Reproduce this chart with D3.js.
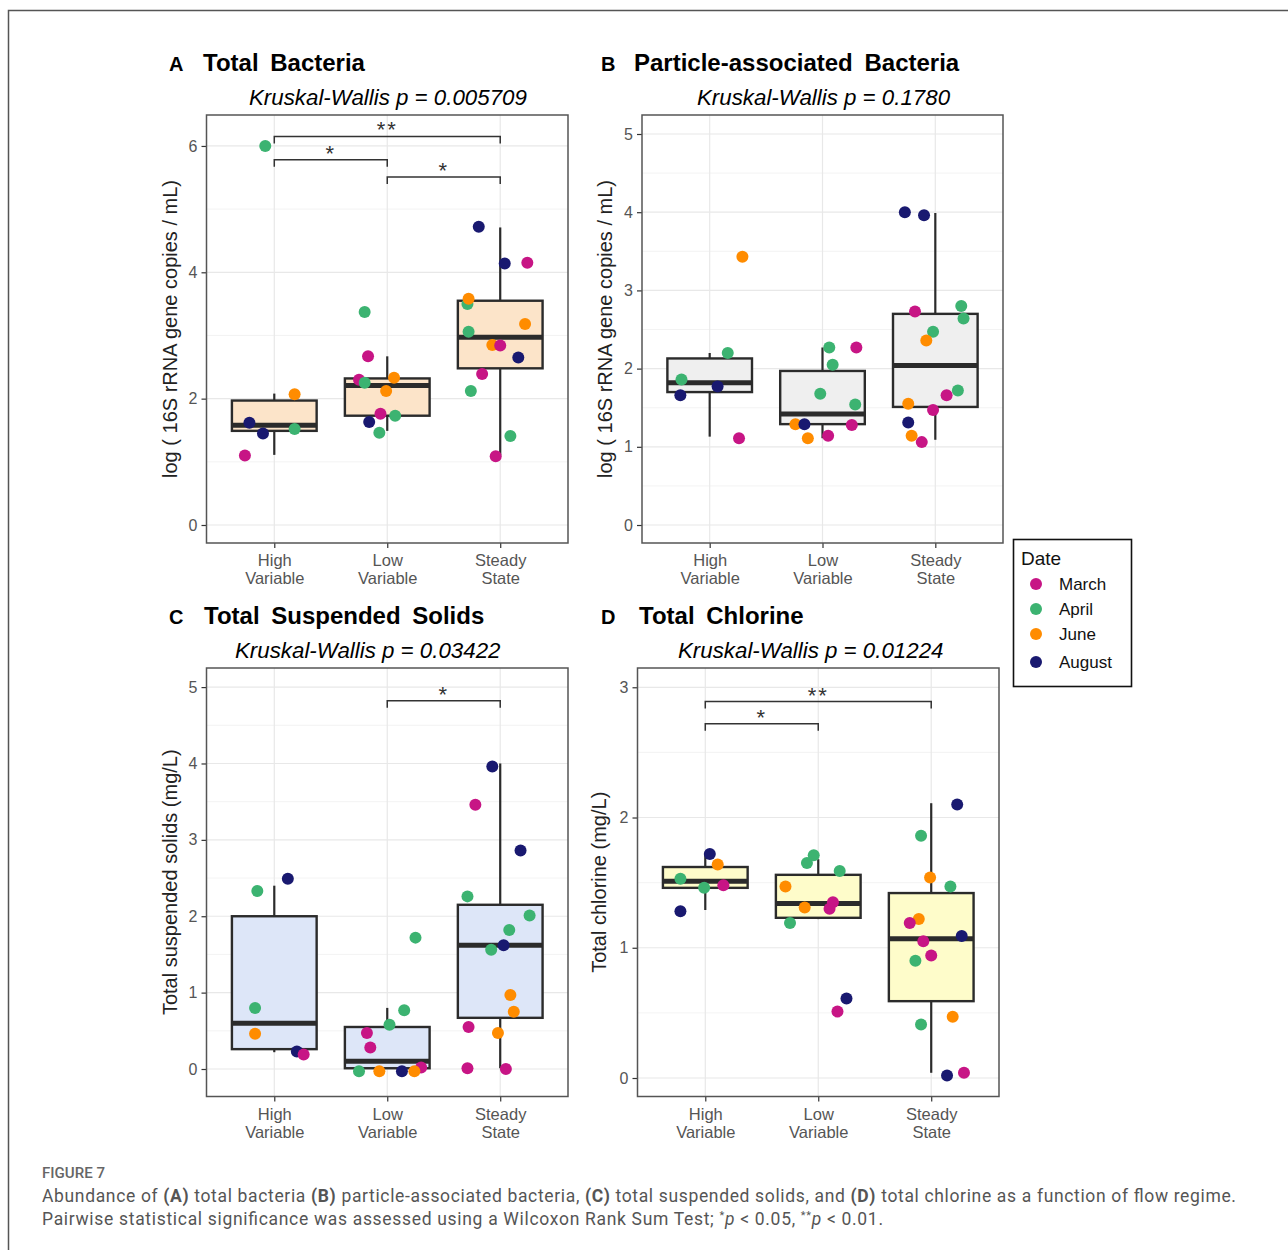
<!DOCTYPE html>
<html>
<head>
<meta charset="utf-8">
<script src="https://cdn.jsdelivr.net/npm/d3@7"></script>
<style>
  body { margin: 0; background: #fff; }
  text { font-family: "Liberation Sans", Arial, sans-serif; }
</style>
</head>
<body>
<script>
// flow regimes and sampling months
var categories = ["High Variable", "Low Variable", "Steady State"];
var catLines = [["High", "Variable"], ["Low", "Variable"], ["Steady", "State"]];
var months = ["March", "April", "June", "August"];
var monthColors = ["#c71585", "#3cb371", "#ff8c00", "#191970"];

// A - total bacteria: box stats [low whisker, q1, median, q3, high whisker]
var bactBoxes = [[1.11, 1.49, 1.58, 1.97, 2.08], [1.49, 1.73, 2.21, 2.32, 2.67], [1.10, 2.48, 2.97, 3.55, 4.71]];
var bactValues = [
  [6.00, 1.62, 1.45, 1.10, 2.07, 1.52],
  [3.37, 2.67, 2.30, 2.25, 2.33, 2.12, 1.76, 1.73, 1.63, 1.46],
  [4.72, 4.14, 4.15, 3.50, 3.58, 3.06, 3.18, 2.85, 2.84, 2.65, 2.39, 2.12, 1.41, 1.09]];
var bactMonths = [
  ["April", "August", "August", "March", "June", "April"],
  ["April", "March", "March", "April", "June", "June", "March", "April", "August", "April"],
  ["August", "August", "March", "April", "June", "April", "June", "June", "March", "August", "March", "April", "April", "March"]];
var bactJitter = [
  [-0.08, -0.22, -0.10, -0.26, 0.18, 0.18],
  [-0.20, -0.17, -0.25, -0.20, 0.06, -0.01, -0.06, 0.07, -0.16, -0.07],
  [-0.19, 0.04, 0.24, -0.29, -0.28, -0.28, 0.22, -0.07, 0.00, 0.16, -0.16, -0.26, 0.09, -0.04]];
var bactSig = [[0, 2, 6.15, "**"], [0, 1, 5.78, "*"], [1, 2, 5.51, "*"]];

// B - particle-associated bacteria
var partBoxes = [[1.13, 1.70, 1.82, 2.13, 2.20], [1.11, 1.29, 1.42, 1.97, 2.27], [1.09, 1.51, 2.04, 2.70, 3.99]];
var partValues = [
  [1.86, 1.66, 1.77, 2.20, 3.43, 1.11],
  [2.27, 2.27, 2.05, 1.68, 1.54, 1.29, 1.29, 1.28, 1.11, 1.14],
  [4.00, 3.96, 2.80, 2.64, 2.73, 2.47, 2.36, 1.72, 1.66, 1.55, 1.47, 1.31, 1.14, 1.06]];
var partMonths = [
  ["April", "August", "August", "April", "June", "March"],
  ["April", "March", "April", "April", "April", "June", "August", "March", "June", "March"],
  ["August", "August", "April", "April", "March", "April", "June", "April", "March", "June", "March", "August", "June", "March"]];
var partJitter = [
  [-0.25, -0.26, 0.07, 0.16, 0.29, 0.26],
  [0.06, 0.30, 0.09, -0.02, 0.29, -0.24, -0.16, 0.26, -0.13, 0.05],
  [-0.27, -0.10, 0.23, 0.25, -0.18, -0.02, -0.08, 0.20, 0.10, -0.24, -0.02, -0.24, -0.21, -0.12]];
var partSig = [];

// C - total suspended solids
var tssBoxes = [[0.22, 0.26, 0.60, 2.00, 2.40], [0.01, 0.01, 0.10, 0.55, 0.80], [0.01, 0.67, 1.62, 2.15, 4.00]];
var tssValues = [
  [2.33, 2.49, 0.80, 0.46, 0.23, 0.19],
  [1.72, 0.77, 0.58, 0.47, 0.28, -0.03, -0.03, -0.03, 0.02, -0.03],
  [3.96, 3.46, 2.86, 2.26, 2.01, 1.82, 1.62, 1.56, 0.97, 0.75, 0.55, 0.47, 0.01, 0.00]];
var tssMonths = [
  ["April", "August", "April", "June", "August", "March"],
  ["April", "April", "April", "March", "March", "April", "June", "August", "March", "June"],
  ["August", "March", "August", "April", "April", "April", "August", "April", "June", "June", "March", "June", "March", "March"]];
var tssJitter = [
  [-0.15, 0.12, -0.17, -0.17, 0.20, 0.26],
  [0.25, 0.15, 0.02, -0.18, -0.15, -0.25, -0.07, 0.13, 0.30, 0.24],
  [-0.07, -0.22, 0.18, -0.29, 0.26, 0.08, 0.03, -0.08, 0.09, 0.12, -0.28, -0.02, -0.29, 0.05]];
var tssSig = [[1, 2, 4.82, "*"]];

// D - total chlorine
var clBoxes = [[1.29, 1.46, 1.51, 1.62, 1.72], [1.22, 1.23, 1.34, 1.56, 1.68], [0.04, 0.59, 1.07, 1.42, 2.11]];
var clValues = [
  [1.72, 1.64, 1.53, 1.46, 1.48, 1.28],
  [1.71, 1.65, 1.59, 1.47, 1.31, 1.35, 1.30, 1.19, 0.61, 0.51],
  [2.10, 1.86, 1.54, 1.47, 1.22, 1.19, 1.09, 1.05, 0.94, 0.90, 0.47, 0.41, 0.02, 0.04]];
var clMonths = [
  ["August", "June", "April", "April", "March", "August"],
  ["April", "April", "April", "June", "June", "March", "March", "April", "August", "March"],
  ["August", "April", "June", "April", "June", "March", "August", "March", "March", "April", "June", "April", "August", "March"]];
var clJitter = [
  [0.04, 0.11, -0.22, -0.01, 0.16, -0.22],
  [-0.04, -0.10, 0.19, -0.29, -0.12, 0.13, 0.10, -0.25, 0.25, 0.17],
  [0.23, -0.09, -0.01, 0.17, -0.11, -0.19, 0.27, -0.07, 0.00, -0.14, 0.19, -0.09, 0.14, 0.29]];
var clSig = [[0, 2, 2.89, "**"], [0, 1, 2.72, "*"]];

var panels = [
  { letter: "A", title: "Total Bacteria", kw: "0.005709", ylab: "log ( 16S rRNA gene copies / mL)",
    boxes: bactBoxes, values: bactValues, months: bactMonths, jitter: bactJitter, sig: bactSig,
    ticks: [0, 2, 4, 6], minor: [1, 3, 5], ydom: [-0.285, 6.49], fill: "#fce4c9",
    x0: 206.5, x1: 568, y0: 115, y1: 543, letterX: 169, titleX: 203, kwX: 249, ylabX: 177 },
  { letter: "B", title: "Particle-associated Bacteria", kw: "0.1780", ylab: "log ( 16S rRNA gene copies / mL)",
    boxes: partBoxes, values: partValues, months: partMonths, jitter: partJitter, sig: partSig,
    ticks: [0, 1, 2, 3, 4, 5], minor: [0.5, 1.5, 2.5, 3.5, 4.5], ydom: [-0.23, 5.243], fill: "#efefef",
    x0: 642, x1: 1003, y0: 115, y1: 543, letterX: 601, titleX: 634, kwX: 697, ylabX: 612 },
  { letter: "C", title: "Total Suspended Solids", kw: "0.03422", ylab: "Total suspended solids (mg/L)",
    boxes: tssBoxes, values: tssValues, months: tssMonths, jitter: tssJitter, sig: tssSig,
    ticks: [0, 1, 2, 3, 4, 5], minor: [0.5, 1.5, 2.5, 3.5, 4.5], ydom: [-0.36, 5.25], fill: "#dde6f8",
    x0: 206.5, x1: 568, y0: 668, y1: 1096.5, letterX: 169, titleX: 204, kwX: 235, ylabX: 177 },
  { letter: "D", title: "Total Chlorine", kw: "0.01224", ylab: "Total chlorine (mg/L)",
    boxes: clBoxes, values: clValues, months: clMonths, jitter: clJitter, sig: clSig,
    ticks: [0, 1, 2, 3], minor: [0.5, 1.5, 2.5], ydom: [-0.142, 3.148], fill: "#fefcca",
    x0: 637.5, x1: 999, y0: 668, y1: 1096.5, letterX: 601, titleX: 639, kwX: 678, ylabX: 606 }
];

var color = d3.scaleOrdinal(months, monthColors);

var svg = d3.select("body").append("svg")
  .attr("width", 1288)
  .attr("height", 1250);

svg.append("rect").attr("width", 1288).attr("height", 1250).attr("fill", "#fff");

// outer frame of the figure
svg.append("rect")
  .attr("x", 8.5).attr("y", 10.5)
  .attr("width", 1300).attr("height", 1300)
  .attr("fill", "none").attr("stroke", "#555").attr("stroke-width", 1.5);

panels.forEach(function(p) {
  var x = d3.scaleLinear().domain([-0.6, 2.6]).range([p.x0, p.x1]);
  var y = d3.scaleLinear().domain(p.ydom).range([p.y1, p.y0]);
  var g = svg.append("g");

  // heading
  g.append("text").attr("x", p.letterX).attr("y", p.y0 - 44)
    .attr("font-size", 20).attr("font-weight", "bold").text(p.letter);
  g.append("text").attr("x", p.titleX).attr("y", p.y0 - 44)
    .attr("font-size", 24).attr("font-weight", "bold").attr("word-spacing", 5).text(p.title);
  g.append("text").attr("x", p.kwX).attr("y", p.y0 - 10)
    .attr("font-size", 22.3).attr("font-style", "italic").attr("fill", "#000")
    .text("Kruskal-Wallis p = " + p.kw);

  // grid
  g.selectAll(".minor").data(p.minor).enter().append("line")
    .attr("x1", p.x0).attr("x2", p.x1)
    .attr("y1", function(d) { return y(d); }).attr("y2", function(d) { return y(d); })
    .attr("stroke", "#f0f0f0").attr("stroke-width", 0.8);
  g.selectAll(".major").data(p.ticks).enter().append("line")
    .attr("x1", p.x0).attr("x2", p.x1)
    .attr("y1", function(d) { return y(d); }).attr("y2", function(d) { return y(d); })
    .attr("stroke", "#e8e8e8").attr("stroke-width", 1.2);
  g.selectAll(".vgrid").data([0, 1, 2]).enter().append("line")
    .attr("x1", function(d) { return x(d); }).attr("x2", function(d) { return x(d); })
    .attr("y1", p.y0).attr("y2", p.y1)
    .attr("stroke", "#e8e8e8").attr("stroke-width", 1.2);

  // axes
  var yAxis = g.append("g").attr("transform", "translate(" + p.x0 + ",0)")
    .call(d3.axisLeft(y).tickValues(p.ticks).tickSize(5).tickPadding(4).tickFormat(d3.format("d")));
  yAxis.select(".domain").remove();
  yAxis.selectAll("line").attr("stroke", "#333").attr("stroke-width", 1.2);
  yAxis.selectAll("text").attr("font-size", 16).attr("fill", "#555");

  var xAxis = g.append("g").attr("transform", "translate(0," + p.y1 + ")")
    .call(d3.axisBottom(x).tickValues([0, 1, 2]).tickSize(5).tickFormat(""));
  xAxis.select(".domain").remove();
  xAxis.selectAll("line").attr("stroke", "#333").attr("stroke-width", 1.2);
  xAxis.selectAll(".tick").each(function(d) {
    var t = d3.select(this).append("text").attr("fill", "#555").attr("font-size", 16.5)
      .attr("text-anchor", "middle");
    catLines[d].forEach(function(s, i) {
      t.append("tspan").attr("x", 0).attr("y", 23 + i * 18).text(s);
    });
  });

  g.append("text")
    .attr("transform", "translate(" + p.ylabX + "," + ((p.y0 + p.y1) / 2) + ") rotate(-90)")
    .attr("text-anchor", "middle").attr("font-size", 20).attr("fill", "#222")
    .text(p.ylab);

  // boxes
  var bw = 0.375;
  var boxG = g.selectAll(".box").data(p.boxes).enter().append("g");
  boxG.append("line")
    .attr("x1", function(d, i) { return x(i); }).attr("x2", function(d, i) { return x(i); })
    .attr("y1", function(d) { return y(d[0]); }).attr("y2", function(d) { return y(d[1]); })
    .attr("stroke", "#2b2b2b").attr("stroke-width", 2.2);
  boxG.append("line")
    .attr("x1", function(d, i) { return x(i); }).attr("x2", function(d, i) { return x(i); })
    .attr("y1", function(d) { return y(d[3]); }).attr("y2", function(d) { return y(d[4]); })
    .attr("stroke", "#2b2b2b").attr("stroke-width", 2.2);
  boxG.append("rect")
    .attr("x", function(d, i) { return x(i - bw); })
    .attr("width", x(2 * bw) - x(0))
    .attr("y", function(d) { return y(d[3]); })
    .attr("height", function(d) { return y(d[1]) - y(d[3]); })
    .attr("fill", p.fill).attr("stroke", "#2b2b2b").attr("stroke-width", 2.4);
  boxG.append("line")
    .attr("x1", function(d, i) { return x(i - bw); }).attr("x2", function(d, i) { return x(i + bw); })
    .attr("y1", function(d) { return y(d[2]); }).attr("y2", function(d) { return y(d[2]); })
    .attr("stroke", "#2b2b2b").attr("stroke-width", 5);

  // jittered points
  var pts = [];
  p.values.forEach(function(vals, ci) {
    vals.forEach(function(v, k) {
      pts.push({ cat: ci, value: v, month: p.months[ci][k], jit: p.jitter[ci][k] });
    });
  });
  g.selectAll(".pt").data(pts).enter().append("circle")
    .attr("cx", function(d) { return x(d.cat + d.jit); })
    .attr("cy", function(d) { return y(d.value); })
    .attr("r", 6)
    .attr("fill", function(d) { return color(d.month); });

  // significance brackets
  p.sig.forEach(function(s) {
    var yy = y(s[2]);
    g.append("path")
      .attr("d", "M" + x(s[0]) + "," + (yy + 7) + "V" + yy + "H" + x(s[1]) + "V" + (yy + 7))
      .attr("fill", "none").attr("stroke", "#333").attr("stroke-width", 1.5);
    g.append("text").attr("x", (x(s[0]) + x(s[1])) / 2).attr("y", yy + 1)
      .attr("text-anchor", "middle").attr("font-size", 22).attr("fill", "#333")
      .attr("letter-spacing", 2).text(s[3]);
  });

  // panel border
  g.append("rect").attr("x", p.x0).attr("y", p.y0)
    .attr("width", p.x1 - p.x0).attr("height", p.y1 - p.y0)
    .attr("fill", "none").attr("stroke", "#555").attr("stroke-width", 1.5);
});

// legend
var leg = svg.append("g").attr("transform", "translate(1013,539)");
leg.append("rect").attr("x", 0.5).attr("y", 0.5).attr("width", 118).attr("height", 147)
  .attr("fill", "#fff").attr("stroke", "#111").attr("stroke-width", 1.6);
leg.append("text").attr("x", 8).attr("y", 26).attr("font-size", 19).attr("fill", "#111").text("Date");
var li = leg.selectAll(".li").data(months).enter().append("g")
  .attr("transform", function(d, i) { return "translate(0," + [45, 70, 95, 123][i] + ")"; });
li.append("circle").attr("cx", 23).attr("cy", 0).attr("r", 6).attr("fill", function(d) { return color(d); });
li.append("text").attr("x", 46).attr("y", 6).attr("font-size", 17).attr("fill", "#111").text(function(d) { return d; });

// caption
var capFont = "Roboto, 'Liberation Sans', sans-serif";
svg.append("text").attr("x", 42).attr("y", 1178)
  .attr("font-size", 14).attr("font-weight", 500).attr("fill", "#666")
  .style("font-family", capFont).attr("textLength", 63).attr("lengthAdjust", "spacingAndGlyphs").text("FIGURE 7");

var cap1 = svg.append("text").attr("x", 42).attr("y", 1202)
  .attr("font-size", 17.5).attr("fill", "#555").style("font-family", capFont)
  .attr("textLength", 1194).attr("lengthAdjust", "spacing");
[["Abundance of ", false], ["(A)", true], [" total bacteria ", false], ["(B)", true],
 [" particle-associated bacteria, ", false], ["(C)", true], [" total suspended solids, and ", false],
 ["(D)", true], [" total chlorine as a function of flow regime.", false]].forEach(function(s) {
  cap1.append("tspan").attr("font-weight", s[1] ? "bold" : null).text(s[0]);
});

var cap2 = svg.append("text").attr("x", 42).attr("y", 1225)
  .attr("font-size", 17.5).attr("fill", "#555").style("font-family", capFont)
  .attr("textLength", 841).attr("lengthAdjust", "spacing");
cap2.append("tspan").text("Pairwise statistical significance was assessed using a Wilcoxon Rank Sum Test; ");
cap2.append("tspan").attr("font-size", 11).attr("dy", -6).text("*");
cap2.append("tspan").attr("font-style", "italic").attr("dy", 6).text("p");
cap2.append("tspan").text(" < 0.05, ");
cap2.append("tspan").attr("font-size", 11).attr("dy", -6).text("**");
cap2.append("tspan").attr("font-style", "italic").attr("dy", 6).text("p");
cap2.append("tspan").text(" < 0.01.");
</script>
</body>
</html>
